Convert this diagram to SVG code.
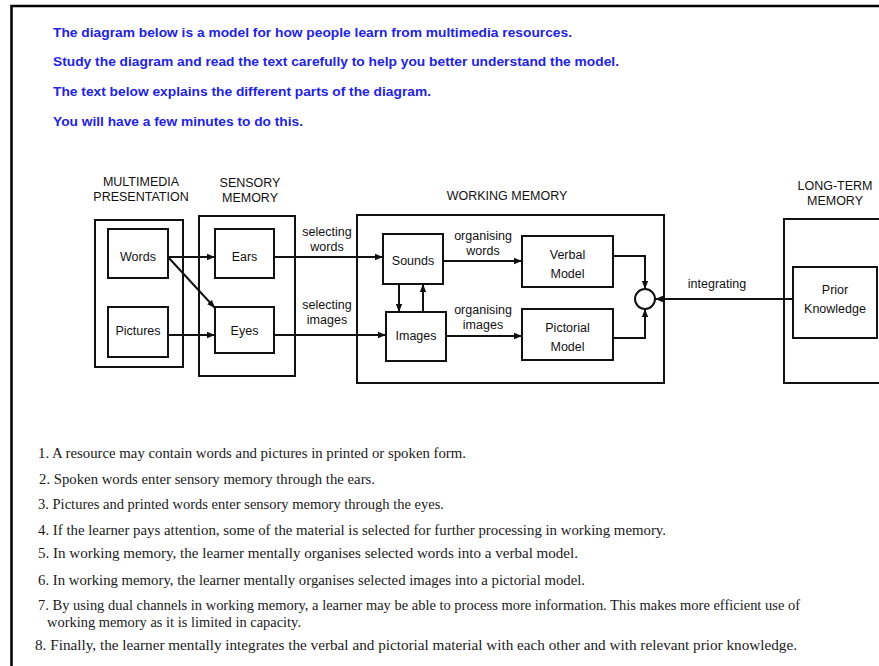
<svg xmlns="http://www.w3.org/2000/svg" width="879" height="666" viewBox="0 0 879 666">
<defs>
<style>
.hd{font-family:"Liberation Sans",Arial,sans-serif;font-weight:bold;font-size:12.5px;fill:#2323e0}
.lb{font-family:"Liberation Sans",Arial,sans-serif;font-size:12.5px;fill:#111}
.bx{fill:none;stroke:#111;stroke-width:2}
.ln{fill:none;stroke:#111;stroke-width:2}
.tx{font-family:"Liberation Serif","Times New Roman",serif;font-size:14.5px;fill:#1a1a1a}
</style>
<marker id="ah" viewBox="0 0 10 10" refX="10" refY="5" markerWidth="4" markerHeight="4" orient="auto" markerUnits="strokeWidth">
<path d="M0,1 L10,5 L0,9 z" fill="#111"/>
</marker>
</defs>
<rect width="879" height="666" fill="#fff"/>
<path d="M11.5,666 V6 H879" fill="none" stroke="#000" stroke-width="2.5"/>

<g id="header">
<text class="hd" x="53" y="37" textLength="519" lengthAdjust="spacingAndGlyphs">The diagram below is a model for how people learn from multimedia resources.</text>
<text class="hd" x="53" y="66" textLength="566" lengthAdjust="spacingAndGlyphs">Study the diagram and read the text carefully to help you better understand the model.</text>
<text class="hd" x="53" y="96" textLength="378" lengthAdjust="spacingAndGlyphs">The text below explains the different parts of the diagram.</text>
<text class="hd" x="53" y="126" textLength="250" lengthAdjust="spacingAndGlyphs">You will have a few minutes to do this.</text>
</g>

<g id="multimedia">
<text class="lb" x="141" y="186" text-anchor="middle">MULTIMEDIA</text>
<text class="lb" x="141" y="201" text-anchor="middle">PRESENTATION</text>
<rect class="bx" x="95" y="220" width="88" height="147"/>
</g>
<g id="words"><rect class="bx" x="108" y="229" width="60" height="49"/><text class="lb" x="138" y="261" text-anchor="middle">Words</text></g>
<g id="pictures"><rect class="bx" x="108" y="307" width="60" height="50"/><text class="lb" x="138" y="335" text-anchor="middle">Pictures</text></g>

<g id="sensory">
<text class="lb" x="250" y="187" text-anchor="middle">SENSORY</text>
<text class="lb" x="250" y="202" text-anchor="middle">MEMORY</text>
<rect class="bx" x="199" y="216" width="96" height="160"/>
</g>
<g id="ears"><rect class="bx" x="215" y="229" width="59" height="49"/><text class="lb" x="244.5" y="261" text-anchor="middle">Ears</text></g>
<g id="eyes"><rect class="bx" x="215" y="307" width="59" height="46"/><text class="lb" x="244.5" y="335" text-anchor="middle">Eyes</text></g>

<g id="working">
<text class="lb" x="507" y="200" text-anchor="middle">WORKING MEMORY</text>
<rect class="bx" x="357" y="215" width="307" height="168"/>
</g>
<g id="sounds"><rect class="bx" x="383" y="234" width="60" height="50"/><text class="lb" x="413" y="265" text-anchor="middle">Sounds</text></g>
<g id="images"><rect class="bx" x="386" y="312" width="60" height="49"/><text class="lb" x="416" y="340" text-anchor="middle">Images</text></g>
<g id="verbal"><rect class="bx" x="522" y="236" width="91" height="51"/><text class="lb" x="567.5" y="259" text-anchor="middle">Verbal</text><text class="lb" x="567.5" y="278" text-anchor="middle">Model</text></g>
<g id="pictorial"><rect class="bx" x="522" y="309" width="91" height="51"/><text class="lb" x="567.5" y="332" text-anchor="middle">Pictorial</text><text class="lb" x="567.5" y="351" text-anchor="middle">Model</text></g>
<g id="integrator"><circle cx="645" cy="299" r="10" fill="#fff" stroke="#111" stroke-width="2"/></g>

<g id="longterm">
<text class="lb" x="835" y="190" text-anchor="middle">LONG-TERM</text>
<text class="lb" x="835" y="205" text-anchor="middle">MEMORY</text>
<path class="bx" d="M884,219 H784 V383 H884"/>
</g>
<g id="prior"><rect class="bx" x="793" y="267" width="84" height="71"/><text class="lb" x="835" y="294" text-anchor="middle">Prior</text><text class="lb" x="835" y="313" text-anchor="middle">Knowledge</text></g>

<g id="connectors">
<line class="ln" x1="168" y1="257" x2="215" y2="257" marker-end="url(#ah)"/>
<line class="ln" x1="168" y1="257" x2="215" y2="308" marker-end="url(#ah)"/>
<line class="ln" x1="168" y1="335" x2="215" y2="335" marker-end="url(#ah)"/>
<line class="ln" x1="274" y1="257" x2="383" y2="257" marker-end="url(#ah)"/>
<line class="ln" x1="274" y1="335" x2="386" y2="335" marker-end="url(#ah)"/>
<line class="ln" x1="443" y1="261" x2="522" y2="261" marker-end="url(#ah)"/>
<line class="ln" x1="446" y1="336" x2="522" y2="336" marker-end="url(#ah)"/>
<line class="ln" x1="399" y1="284" x2="399" y2="312" marker-end="url(#ah)"/>
<line class="ln" x1="423" y1="312" x2="423" y2="284" marker-end="url(#ah)"/>
<path class="ln" d="M613,256 H645 V289" marker-end="url(#ah)"/>
<path class="ln" d="M613,338 H645 V309" marker-end="url(#ah)"/>
<line class="ln" x1="793" y1="299" x2="655" y2="299" marker-end="url(#ah)"/>
<text class="lb" x="327" y="236" text-anchor="middle">selecting</text>
<text class="lb" x="327" y="251" text-anchor="middle">words</text>
<text class="lb" x="327" y="309" text-anchor="middle">selecting</text>
<text class="lb" x="327" y="324" text-anchor="middle">images</text>
<text class="lb" x="483" y="240" text-anchor="middle">organising</text>
<text class="lb" x="483" y="255" text-anchor="middle">words</text>
<text class="lb" x="483" y="314" text-anchor="middle">organising</text>
<text class="lb" x="483" y="329" text-anchor="middle">images</text>
<text class="lb" x="717" y="288" text-anchor="middle">integrating</text>
</g>

<g id="explanations">
<text class="tx" x="38" y="458" textLength="428" lengthAdjust="spacingAndGlyphs">1. A resource may contain words and pictures in printed or spoken form.</text>
<text class="tx" x="39" y="484" textLength="336" lengthAdjust="spacingAndGlyphs">2. Spoken words enter sensory memory through the ears.</text>
<text class="tx" x="38" y="509" textLength="406" lengthAdjust="spacingAndGlyphs">3. Pictures and printed words enter sensory memory through the eyes.</text>
<text class="tx" x="38" y="535" textLength="628" lengthAdjust="spacingAndGlyphs">4. If the learner pays attention, some of the material is selected for further processing in working memory.</text>
<text class="tx" x="38" y="558" textLength="540" lengthAdjust="spacingAndGlyphs">5. In working memory, the learner mentally organises selected words into a verbal model.</text>
<text class="tx" x="38" y="585" textLength="547" lengthAdjust="spacingAndGlyphs">6. In working memory, the learner mentally organises selected images into a pictorial model.</text>
<text class="tx" x="38" y="610" textLength="762" lengthAdjust="spacingAndGlyphs">7. By using dual channels in working memory, a learner may be able to process more information. This makes more efficient use of</text>
<text class="tx" x="47" y="627" textLength="254" lengthAdjust="spacingAndGlyphs">working memory as it is limited in capacity.</text>
<text class="tx" x="35" y="650" textLength="762" lengthAdjust="spacingAndGlyphs">8. Finally, the learner mentally integrates the verbal and pictorial material with each other and with relevant prior knowledge.</text>
</g>
</svg>
